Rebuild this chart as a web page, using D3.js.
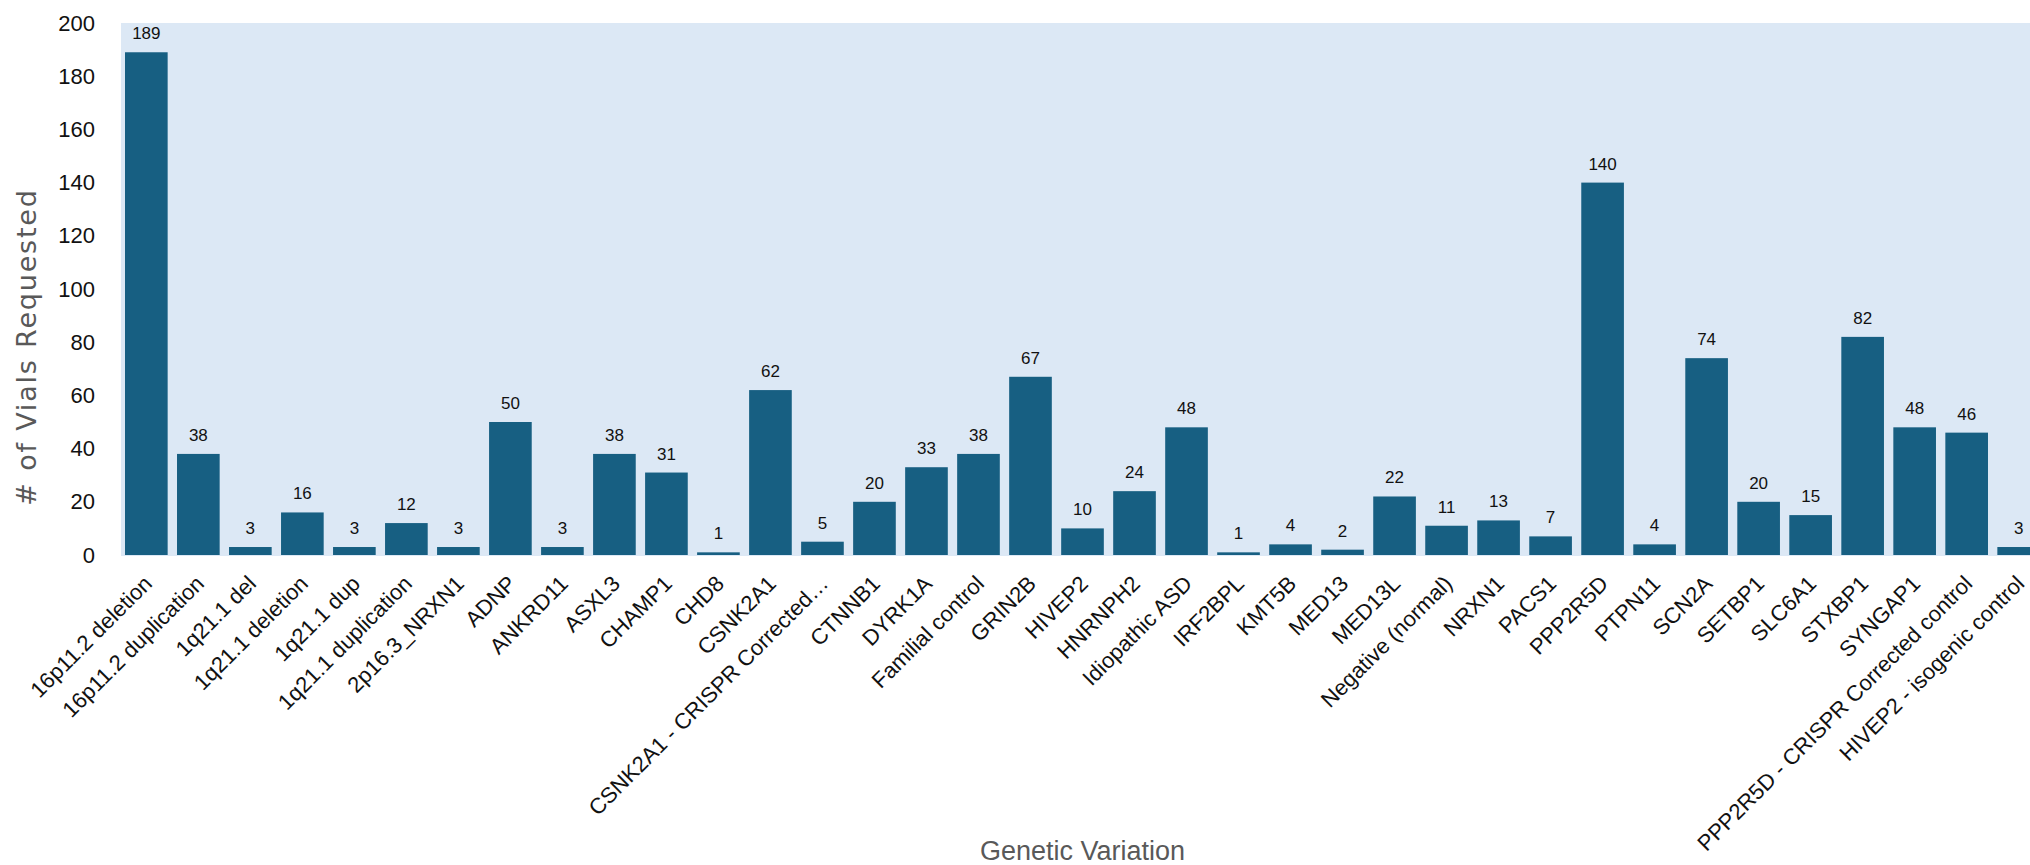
<!DOCTYPE html>
<html>
<head>
<meta charset="utf-8">
<script src="https://cdn.jsdelivr.net/npm/d3@7"></script>
<style>
  html, body { margin: 0; padding: 0; background: #fff; overflow: hidden; }
  svg { display: block; font-family: "Liberation Sans", Arial, sans-serif; }
</style>
</head>
<body>
<div id="chart"></div>
<script>
const WIDTH = 2030;
const HEIGHT = 865;
const MARGIN = { top: 23, left: 121, bottom: 555, right: 2044 };

// data
const variations = [
  "16p11.2 deletion", "16p11.2 duplication", "1q21.1 del", "1q21.1 deletion",
  "1q21.1 dup", "1q21.1 duplication", "2p16.3_NRXN1", "ADNP", "ANKRD11",
  "ASXL3", "CHAMP1", "CHD8", "CSNK2A1", "CSNK2A1 - CRISPR Corrected…",
  "CTNNB1", "DYRK1A", "Familial control", "GRIN2B", "HIVEP2", "HNRNPH2",
  "Idiopathic ASD", "IRF2BPL", "KMT5B", "MED13", "MED13L", "Negative (normal)",
  "NRXN1", "PACS1", "PPP2R5D", "PTPN11", "SCN2A", "SETBP1", "SLC6A1",
  "STXBP1", "SYNGAP1", "PPP2R5D - CRISPR Corrected control", "HIVEP2 - isogenic control"
];
const vials = [
  189, 38, 3, 16, 3, 12, 3, 50, 3, 38, 31, 1, 62, 5, 20, 33, 38, 67, 10, 24,
  48, 1, 4, 2, 22, 11, 13, 7, 140, 4, 74, 20, 15, 82, 48, 46, 3
];
const yTicks = [0, 20, 40, 60, 80, 100, 120, 140, 160, 180, 200];

const rows = variations.map((name, i) => ({ name, value: vials[i] }));

const svg = d3.select("#chart").append("svg")
  .attr("width", WIDTH)
  .attr("height", HEIGHT);

const x = d3.scaleBand()
  .domain(variations)
  .range([MARGIN.left, MARGIN.right])
  .paddingInner(0.18)
  .paddingOuter(0.077);

const y = d3.scaleLinear()
  .domain([0, 200])
  .range([MARGIN.bottom, MARGIN.top]);

// plot background
svg.append("rect")
  .attr("x", MARGIN.left)
  .attr("y", y(200))
  .attr("width", MARGIN.right - MARGIN.left)
  .attr("height", y(0) - y(200) + 1)
  .attr("fill", "#dce8f5");

// y axis (labels only)
const yAxis = svg.append("g")
  .attr("transform", `translate(${MARGIN.left},0)`)
  .call(d3.axisLeft(y).tickValues(yTicks).tickSize(0).tickPadding(26));
yAxis.select(".domain").remove();
yAxis.selectAll("text")
  .attr("font-size", 22)
  .attr("font-family", "Liberation Sans, Arial, sans-serif")
  .attr("fill", "#111");

// bars
svg.selectAll("rect.bar")
  .data(rows)
  .join("rect")
  .attr("class", "bar")
  .attr("x", d => x(d.name))
  .attr("y", d => y(d.value))
  .attr("width", x.bandwidth())
  .attr("height", d => y(0) - y(d.value))
  .attr("fill", "#175f82");

// value labels
svg.selectAll("text.val")
  .data(rows)
  .join("text")
  .attr("class", "val")
  .attr("x", d => x(d.name) + x.bandwidth() / 2)
  .attr("y", d => y(d.value) - 13)
  .attr("text-anchor", "middle")
  .attr("font-size", 17)
  .attr("fill", "#111")
  .text(d => d.value);

// x axis labels, rotated
const xAxis = svg.append("g")
  .attr("transform", `translate(0,${y(0)})`)
  .call(d3.axisBottom(x).tickSize(0).tickPadding(0));
xAxis.select(".domain").remove();
xAxis.selectAll("text")
  .attr("font-size", 22)
  .attr("font-family", "Liberation Sans, Arial, sans-serif")
  .attr("fill", "#111")
  .attr("text-anchor", "end")
  .attr("y", 0)
  .attr("dy", 0)
  .attr("transform", "translate(7,30) rotate(-45)");

// axis titles
svg.append("text")
  .attr("transform", `translate(36,347) rotate(-90)`)
  .attr("text-anchor", "middle")
  .attr("font-family", "DejaVu Sans, sans-serif")
  .attr("font-size", 27)
  .attr("letter-spacing", 1.8)
  .attr("fill", "#595959")
  .text("# of Vials Requested");

svg.append("text")
  .attr("x", (MARGIN.left + MARGIN.right) / 2)
  .attr("y", 860)
  .attr("text-anchor", "middle")
  .attr("font-size", 27)
  .attr("fill", "#595959")
  .text("Genetic Variation");
</script>
</body>
</html>
